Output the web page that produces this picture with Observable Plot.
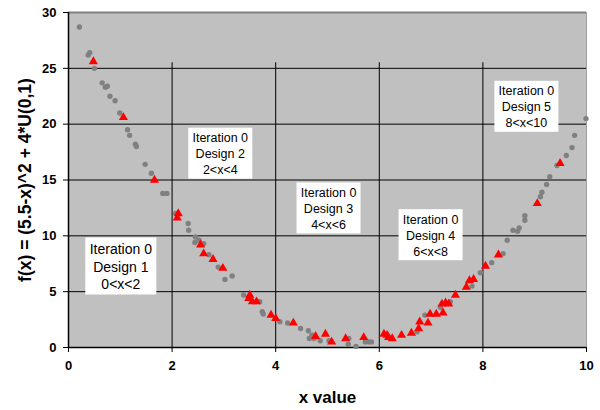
<!DOCTYPE html>
<html><head><meta charset="utf-8">
<script src="https://cdn.jsdelivr.net/npm/d3@7"></script>
<script src="https://cdn.jsdelivr.net/npm/@observablehq/plot@0.6"></script>
<style>body{margin:0;background:#fff;}</style>
</head><body><div id="chart"></div>
<script>
// gray sample points (x, f(x))
const dotX = [0.21,0.38,0.41,0.50,0.65,0.71,0.75,0.80,0.90,0.99,1.14,1.18,1.29,1.31,1.48,1.60,1.82,1.90,2.07,2.31,2.32,2.45,2.44,2.52,2.61,2.71,2.89,3.02,3.16,3.38,3.69,3.74,3.76,4.08,4.23,4.48,4.63,4.65,4.70,4.74,4.86,5.03,5.41,5.40,5.55,5.73,5.80,5.85,6.73,6.88,7.18,7.37,7.79,7.95,8.17,8.39,8.47,8.58,8.67,8.70,8.81,8.81,9.11,9.14,9.23,9.29,9.43,9.61,9.72,9.77,9.99];
const dotY = [28.7,26.2,26.4,25.0,23.7,23.3,23.4,22.5,22.1,21.0,19.5,19.0,18.2,18.0,16.4,15.6,13.8,13.8,12.0,11.1,10.5,9.9,9.4,9.6,9.3,8.3,7.2,6.1,6.4,4.7,4.1,3.2,3.0,2.3,2.2,1.7,1.5,0.8,1.1,0.8,0.6,0.6,0.8,0.3,0.1,0.5,0.5,0.5,1.4,2.9,3.6,4.1,5.5,6.7,7.6,8.4,9.6,10.5,10.4,10.7,11.4,11.8,13.5,13.9,14.6,15.3,16.3,17.2,17.9,19.0,20.5];
// red design points
const triX = [0.48,1.06,1.66,2.12,2.10,2.55,2.61,2.79,2.98,3.50,3.48,3.55,3.63,3.91,4.00,4.34,4.77,4.96,5.08,5.35,5.70,6.09,6.15,6.18,6.25,6.43,6.62,6.76,6.78,6.94,6.98,7.10,7.23,7.21,7.28,7.34,7.47,7.68,7.74,7.82,8.05,8.30,9.05,9.49];
const triY = [25.6,20.6,15.0,12.0,11.6,9.2,8.4,7.9,7.1,4.7,4.4,4.1,4.1,2.9,2.6,2.2,1.0,1.2,0.5,0.8,0.9,1.2,1.1,0.9,0.8,1.1,1.3,1.7,2.3,2.2,3.0,3.0,3.1,3.9,4.0,3.9,4.7,5.4,6.0,6.1,7.3,8.3,12.9,16.5];

const xTicks = [0,2,4,6,8,10];
const yTicks = [0,5,10,15,20,25,30];
const gridY = [5,10,15,20,25];
const dividerX = [2,4,6,8];
const dividerTop = 25.5;

const labelText = ["Iteration 0\nDesign 1\n0<x<2","Iteration 0\nDesign 2\n2<x<4","Iteration 0\nDesign 3\n4<x<6","Iteration 0\nDesign 4\n6<x<8","Iteration 0\nDesign 5\n8<x<10"];
const labelX = [1.01,2.93,5.02,6.99,8.84];
const labelY = [7.3,17.4,12.5,10.1,21.6];

const xTitle = "x value";
const yTitle = "f(x) = (5.5-x)^2 + 4*U(0,1)";

const pts = dotX.map((x,i)=>({x, y: dotY[i]}));
const tris = triX.map((x,i)=>({x, y: triY[i]}));
const labels = labelText.map((t,i)=>({t, x: labelX[i], y: labelY[i]}));

function boxed(w, h) {
  return function(index, scales, values, dimensions, context, next) {
    const g = next(index, scales, values, dimensions, context);
    const ns = "http://www.w3.org/2000/svg";
    const bg = document.createElementNS(ns, "g");
    for (const i of index) {
      const r = document.createElementNS(ns, "rect");
      r.setAttribute("x", values.x[i] - w/2);
      r.setAttribute("y", values.y[i] - h/2);
      r.setAttribute("width", w);
      r.setAttribute("height", h);
      r.setAttribute("fill", "white");
      bg.appendChild(r);
    }
    g.insertBefore(bg, g.firstChild);
    return g;
  };
}

const font = "'Liberation Sans', Arial, sans-serif";

const chart = Plot.plot({
  width: 600, height: 410,
  marginLeft: 68, marginRight: 14, marginTop: 12, marginBottom: 63,
  style: {fontFamily: font, color: "#000", background: "#fff"},
  x: {domain: [0,10]},
  y: {domain: [0,30]},
  marks: [
    Plot.frame({fill: "#C0C0C0", stroke: null}),
    Plot.ruleY(gridY, {stroke: "#000", strokeWidth: 1}),
    Plot.ruleX(dividerX, {y1: 0, y2: dividerTop, stroke: "#000", strokeWidth: 1}),
    Plot.ruleY([30], {stroke: "#808080", strokeWidth: 2}),
    Plot.ruleX([10], {stroke: "#a0a0a0", strokeWidth: 1}),
    Plot.ruleX([0], {stroke: "#000", strokeWidth: 1.5}),
    Plot.ruleY([0], {stroke: "#000", strokeWidth: 1.5}),
    Plot.dot(pts, {x: "x", y: "y", r: 2.7, fill: "#808080", stroke: null}),
    Plot.dot(tris, {x: "x", y: "y", r: 3.4, symbol: "triangle", fill: "#FF0000", stroke: null}),
    Plot.text(labels.slice(0,1), {x: "x", y: "y", text: "t", fontSize: 14, lineHeight: 1.25, fill: "#000", render: boxed(71, 57)}),
    Plot.text(labels.slice(1), {x: "x", y: "y", text: "t", fontSize: 12.5, lineHeight: 1.28, fill: "#000", render: boxed(64, 51)}),
    Plot.axisX({ticks: xTicks, tickSize: 5, tickPadding: 8, fontSize: 13, fontWeight: "bold", label: null, stroke: "#000"}),
    Plot.axisY({ticks: yTicks, tickSize: 5, tickPadding: 7, fontSize: 13, fontWeight: "bold", label: null, stroke: "#000"}),
    Plot.text([xTitle], {frameAnchor: "bottom", dy: 50, lineAnchor: "middle", textAnchor: "middle", fontSize: 17, fontWeight: "bold", fill: "#000"}),
    Plot.text([yTitle], {frameAnchor: "left", dx: -43, rotate: -90, textAnchor: "middle", lineAnchor: "middle", fontSize: 17.5, fontWeight: "bold", fill: "#000"})
  ]
});
document.getElementById("chart").appendChild(chart);
</script>
</body></html>
